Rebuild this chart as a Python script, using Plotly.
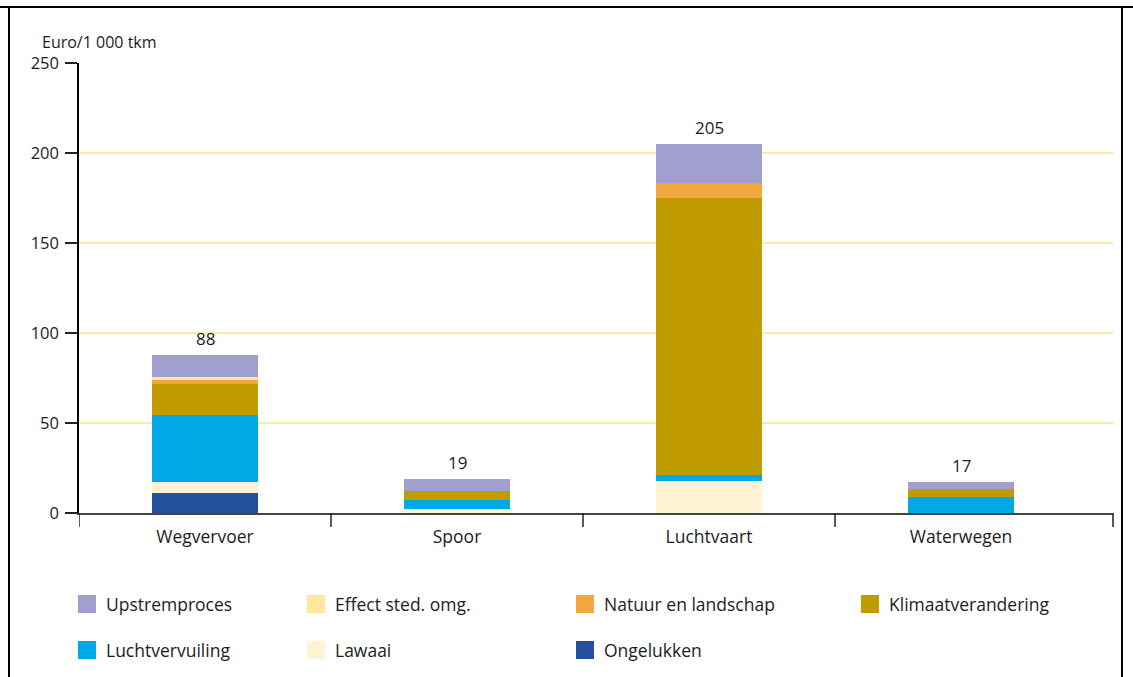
import plotly.graph_objects as go

# Transport modes on the x axis
modes = ["Wegvervoer", "Spoor", "Luchtvaart", "Waterwegen"]

# External cost components (Euro per 1 000 tkm), stacked bottom to top
ongelukken = [11.0, 0.0, 0.0, 0.0]
lawaai = [6.5, 2.0, 18.0, 0.0]
luchtvervuiling = [37.0, 5.0, 3.0, 8.7]
klimaatverandering = [17.0, 5.0, 154.0, 4.6]
natuur_landschap = [2.5, 0.0, 8.5, 0.0]
effect_sted_omg = [1.5, 0.0, 0.0, 0.0]
upstremproces = [12.5, 7.0, 21.5, 3.7]

y_ticks = [0, 50, 100, 150, 200, 250]

series = [
    ("Ongelukken", ongelukken, "#24519c"),
    ("Lawaai", lawaai, "#fff3d4"),
    ("Luchtvervuiling", luchtvervuiling, "#00a9e6"),
    ("Klimaatverandering", klimaatverandering, "#c09c00"),
    ("Natuur en landschap", natuur_landschap, "#f2a73f"),
    ("Effect sted. omg.", effect_sted_omg, "#ffe7a0"),
    ("Upstremproces", upstremproces, "#a09fcf"),
]
colors = {name: col for name, _, col in series}

FONT = "Open Sans"
TXT = "#1c1c1c"
X_MAX = 3.603  # axis runs a little past the last category

fig = go.Figure()
for name, vals, col in series:
    fig.add_trace(go.Bar(
        x=modes, y=vals, name=name,
        marker=dict(color=col, line=dict(width=0)),
        showlegend=False, hoverinfo="x+y+name",
    ))

# Totals above each bar
totals = [sum(s[1][i] for s in series) for i in range(len(modes))]
for m, t in zip(modes, totals):
    fig.add_annotation(x=m, y=t, text=f"{round(t):d}", showarrow=False,
                       yanchor="bottom", yshift=3,
                       font=dict(family=FONT, size=17, color=TXT))

# Plot area geometry (pixels) used to place the legend and frame in paper coords
W, H = 1133, 677
L, R, T, B = 79, 20, 63, 164
pw, ph = W - L - R, H - T - B


def px(x):
    return (x - L) / pw


def py(y):
    return (H - B - y) / ph


# Separator ticks below the x axis: category boundaries and the axis end
tick_line = dict(color="#222222", width=1.5)
for i in range(len(modes)):
    fig.add_shape(type="line", xref="x", yref="paper",
                  x0=i - 0.5, x1=i - 0.5, y0=0, y1=py(H - B + 14),
                  line=tick_line)
fig.add_shape(type="line", xref="paper", yref="paper",
              x0=1, x1=1, y0=0, y1=py(H - B + 14), line=tick_line)

# Two-row legend drawn under the chart
legend_rows = [
    [("Upstremproces", 78), ("Effect sted. omg.", 307),
     ("Natuur en landschap", 576), ("Klimaatverandering", 861)],
    [("Luchtvervuiling", 78), ("Lawaai", 307), ("Ongelukken", 576)],
]
row_y = [604, 650]
sw = 18
for row, yc in zip(legend_rows, row_y):
    for name, x0 in row:
        fig.add_shape(type="rect", xref="paper", yref="paper",
                      x0=px(x0), x1=px(x0 + sw),
                      y0=py(yc + sw / 2), y1=py(yc - sw / 2),
                      fillcolor=colors[name], line=dict(width=0))
        fig.add_annotation(xref="paper", yref="paper", x=px(x0 + 26), y=py(yc),
                           text=name, showarrow=False, xanchor="left",
                           yanchor="middle",
                           font=dict(family=FONT, size=17.5, color=TXT))

# Unit label above the y axis
fig.add_annotation(xref="paper", yref="paper", x=px(40), y=py(42),
                   text="Euro/1 000 tkm", showarrow=False, xanchor="left",
                   yanchor="middle", font=dict(family=FONT, size=16, color=TXT))

# Outer frame
frame = dict(color="black", width=2)
fig.add_shape(type="line", xref="paper", yref="paper",
              x0=px(9), x1=px(9), y0=py(7), y1=py(690), line=frame)
fig.add_shape(type="line", xref="paper", yref="paper",
              x0=px(1122), x1=px(1122), y0=py(7), y1=py(690), line=frame)
fig.add_shape(type="line", xref="paper", yref="paper",
              x0=px(0), x1=px(1140), y0=py(7), y1=py(7), line=frame)

fig.update_layout(
    width=W, height=H,
    margin=dict(l=L, r=R, t=T, b=B, pad=0),
    barmode="stack", bargap=0.583,
    plot_bgcolor="white", paper_bgcolor="white",
    font=dict(family=FONT, size=17, color=TXT),
    xaxis=dict(
        type="category", range=[-0.5, X_MAX],
        showline=True, linecolor="#444444", linewidth=2,
        ticks="", ticklabelstandoff=7,
        showgrid=False, tickfont=dict(family=FONT, size=17.5, color=TXT),
    ),
    yaxis=dict(
        range=[0, 250], tickvals=y_ticks,
        showline=True, linecolor="black", linewidth=1.5,
        ticks="outside", ticklen=12, tickcolor="#222222", tickwidth=1.5,
        showgrid=True, gridcolor="#fde9a6", gridwidth=1.5,
        zeroline=False, ticklabelstandoff=3,
        tickfont=dict(family=FONT, size=16.5, color=TXT),
    ),
)

fig.write_html("out.html")
